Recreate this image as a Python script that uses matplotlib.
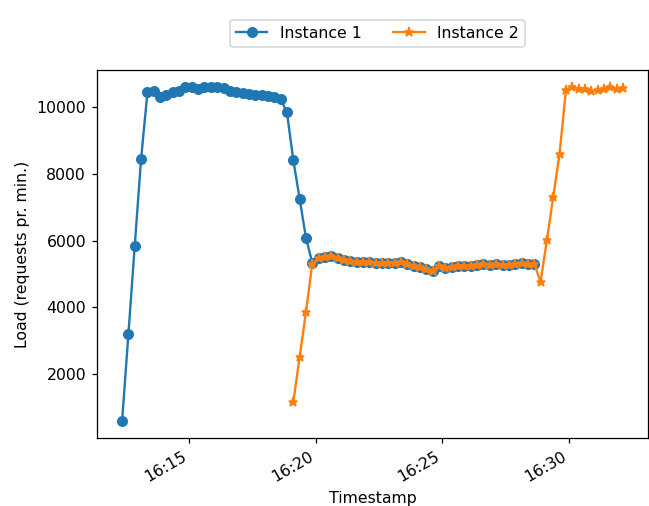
import pandas as pd
import matplotlib
matplotlib.use("Agg")
import matplotlib.pyplot as plt
import matplotlib.dates as mdates

# sample times (one reading every 15 s)
t_start = "2021-03-01 16:12:22"
step = "15s"

# Instance 1 load, samples 0..65
load_instance_1 = [580, 3200, 5850, 8450, 10450, 10480, 10300, 10380, 10450, 10500,
                   10600, 10600, 10550, 10600, 10620, 10600, 10580, 10500, 10450, 10420,
                   10400, 10380, 10380, 10350, 10300, 10250, 9850, 8430, 7260, 6090,
                   5330,
                   5480, 5510, 5550, 5470, 5420, 5400, 5370, 5360, 5370, 5340,
                   5340, 5340, 5340, 5360, 5300, 5230, 5200, 5160, 5100, 5240,
                   5190, 5200, 5230, 5250, 5230, 5280, 5300, 5270, 5300, 5280,
                   5260, 5300, 5320, 5300, 5310]

# Instance 2 load, samples 27..79
load_instance_2 = [1150, 2500, 3850, 5310,
                   5480, 5510, 5550, 5470, 5420, 5400, 5370, 5360, 5370, 5340,
                   5340, 5340, 5340, 5360, 5300, 5230, 5200, 5160, 5100, 5240,
                   5190, 5200, 5230, 5250, 5230, 5280, 5300, 5270, 5300, 5280,
                   5260, 5300, 5320, 5300, 5310,
                   4760, 6010, 7310, 8610, 10520,
                   10600, 10560, 10550, 10500, 10520, 10560, 10600, 10560, 10580]
offset_instance_2 = 27

#%%
n_total = offset_instance_2 + len(load_instance_2)
times = pd.date_range(t_start, periods=n_total, freq=step)
t1 = times[:len(load_instance_1)]
t2 = times[offset_instance_2:]

dpi = 113
fig = plt.figure(figsize=(649 / dpi, 506 / dpi), dpi=dpi)
ax = fig.add_axes([0.1495, 0.1344, 0.849, 0.7273])

ax.plot(t1, load_instance_1, marker='o', label='Instance 1')
ax.plot(t2, load_instance_2, marker='*', label='Instance 2')

ax.xaxis.set_major_locator(mdates.MinuteLocator(byminute=range(0, 60, 5)))
ax.xaxis.set_major_formatter(mdates.DateFormatter('%H:%M'))
for lbl in ax.get_xticklabels():
    lbl.set_rotation(30)
    lbl.set_ha('right')

ax.set_xlabel('Timestamp')
ax.set_ylabel('Load (requests pr. min.)')
ax.legend(loc='upper center', bbox_to_anchor=(0.509, 1.158), ncol=2)

fig.savefig('out.png', dpi=dpi)
